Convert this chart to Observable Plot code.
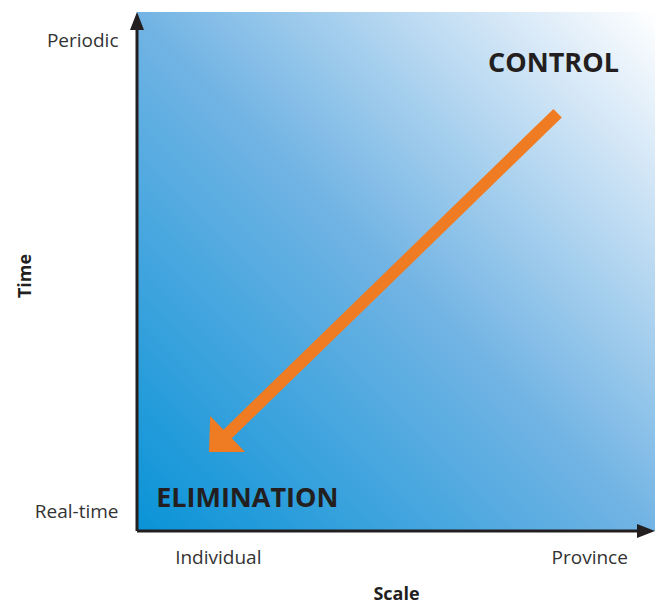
<!DOCTYPE html>
<html>
<head>
<meta charset="utf-8">
<script src="https://cdn.jsdelivr.net/npm/d3@7"></script>
<script src="https://cdn.jsdelivr.net/npm/@observablehq/plot@0.6"></script>
<style>
  html, body { margin: 0; padding: 0; background: #fff; }
</style>
</head>
<body>
<div id="chart"></div>
<script>
// ---- data ----
const xDomain = [0, 10];
const yDomain = [0, 10];
const xTickValues = [1.56, 8.73];
const xTickLabels = ["Individual", "Province"];
const yTickValues = [0.37, 9.46];
const yTickLabels = ["Real-time", "Periodic"];
const xTitle = "Scale";
const yTitle = "Time";
const regionLabels = ["CONTROL", "ELIMINATION"];
const regionX = [8.03, 2.12];
const regionY = [9.02, 0.64];
const trendStart = [8.12, 8.05];
const trendEnd = [1.39, 1.52];

const regions = regionLabels.map((t, i) => ({text: t, x: regionX[i], y: regionY[i]}));

// ---- helpers ----
const NS = "http://www.w3.org/2000/svg";
function gradientDefs() {
  const defs = document.createElementNS(NS, "defs");
  defs.innerHTML = `<linearGradient id="bg" x1="0" y1="1" x2="1" y2="0">
      <stop offset="0" stop-color="#0993d7"/>
      <stop offset="0.5" stop-color="#72b4e4"/>
      <stop offset="0.85" stop-color="#d6e8f7"/>
      <stop offset="1" stop-color="#ffffff"/>
    </linearGradient>`;
  return defs;
}

function arrowMark(from, to, {width, headLength, headHalf, fill}) {
  return (index, scales) => {
    const x1 = scales.x(from[0]), y1 = scales.y(from[1]);
    const x2 = scales.x(to[0]), y2 = scales.y(to[1]);
    const len = Math.hypot(x2 - x1, y2 - y1);
    const ux = (x2 - x1) / len, uy = (y2 - y1) / len;
    const nx = -uy, ny = ux;
    const bx = x2 - ux * headLength, by = y2 - uy * headLength;
    const w = width / 2;
    const pts = [
      [x1 + nx * w, y1 + ny * w],
      [bx + nx * w, by + ny * w],
      [bx + nx * headHalf, by + ny * headHalf],
      [x2, y2],
      [bx - nx * headHalf, by - ny * headHalf],
      [bx - nx * w, by - ny * w],
      [x1 - nx * w, y1 - ny * w]
    ];
    const p = document.createElementNS(NS, "path");
    p.setAttribute("d", "M" + pts.map(d => d.join(",")).join("L") + "Z");
    p.setAttribute("fill", fill);
    return p;
  };
}

const chart = Plot.plot({
  width: 657,
  height: 605,
  marginLeft: 137,
  marginRight: 2,
  marginTop: 12,
  marginBottom: 74,
  style: {fontFamily: "'Open Sans', 'Noto Sans', sans-serif", background: "#fff"},
  x: {domain: xDomain, axis: null},
  y: {domain: yDomain, axis: null},
  marks: [
    gradientDefs,
    Plot.rect([{x1: xDomain[0], x2: xDomain[1], y1: yDomain[0], y2: yDomain[1]}],
      {x1: "x1", x2: "x2", y1: "y1", y2: "y2", fill: "url(#bg)"}),
    arrowMark(trendStart, trendEnd, {width: 12, headLength: 26, headHalf: 25, fill: "#ef7b23"}),
    arrowMark([xDomain[0], yDomain[0]], [xDomain[0], yDomain[1]], {width: 3, headLength: 18, headHalf: 7, fill: "#231f20"}),
    arrowMark([xDomain[0], yDomain[0]], [xDomain[1], yDomain[0]], {width: 3, headLength: 18, headHalf: 7, fill: "#231f20"}),
    Plot.axisX(xTickValues, {
      tickSize: 0, tickPadding: 19, fontSize: 19, color: "#333", label: null,
      tickFormat: d => xTickLabels[xTickValues.indexOf(d)]
    }),
    Plot.axisY(yTickValues, {
      tickSize: 0, tickPadding: 19, fontSize: 19, color: "#333", label: null,
      tickFormat: d => yTickLabels[yTickValues.indexOf(d)]
    }),
    Plot.text(regions, {x: "x", y: "y", text: "text", fontSize: 27, fontWeight: "bold", fill: "#231f20"}),
    Plot.text([xTitle], {frameAnchor: "bottom", lineAnchor: "middle", dy: 63, fontSize: 18, fontWeight: "bold", fill: "#231f20"}),
    Plot.text([yTitle], {frameAnchor: "left", textAnchor: "middle", dx: -112, dy: 4, rotate: -90, fontSize: 18, fontWeight: "bold", fill: "#231f20"})
  ]
});
document.getElementById("chart").appendChild(chart);
</script>
</body>
</html>
